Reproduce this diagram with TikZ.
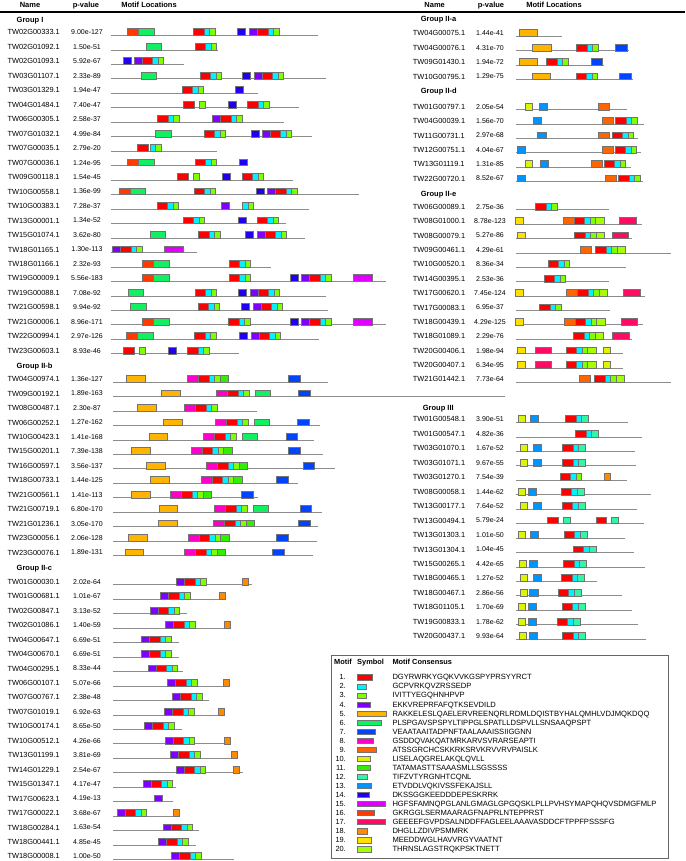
\documentclass[tikz,border=0pt]{standalone}
\usepackage{fontspec}
\setmainfont{Liberation Sans}
\definecolor{m1}{HTML}{FF0000}
\definecolor{m2}{HTML}{00F2FF}
\definecolor{m3}{HTML}{80FF00}
\definecolor{m4}{HTML}{8000FF}
\definecolor{m5}{HTML}{FFB400}
\definecolor{m6}{HTML}{10F060}
\definecolor{m7}{HTML}{0044FF}
\definecolor{m8}{HTML}{FF00C8}
\definecolor{m9}{HTML}{FF6400}
\definecolor{m10}{HTML}{DDF500}
\definecolor{m11}{HTML}{33EE00}
\definecolor{m12}{HTML}{33F5A8}
\definecolor{m13}{HTML}{0094FF}
\definecolor{m14}{HTML}{2000F0}
\definecolor{m15}{HTML}{E000FF}
\definecolor{m16}{HTML}{FF3A00}
\definecolor{m17}{HTML}{FF0A64}
\definecolor{m18}{HTML}{FF8A00}
\definecolor{m19}{HTML}{FFE100}
\definecolor{m20}{HTML}{A5FF00}
\newcommand\defw[2]{\expandafter\def\csname mw#1\endcsname{#2}}
\defw{1}{10.5}\defw{2}{5.5}\defw{3}{5.5}\defw{4}{8}\defw{5}{18.7}
\defw{6}{15.3}\defw{7}{11.5}\defw{8}{11}\defw{9}{10.8}\defw{10}{7}
\defw{11}{8.5}\defw{12}{7}\defw{13}{8.3}\defw{14}{8}\defw{15}{18.7}
\defw{16}{11}\defw{17}{16.5}\defw{18}{6}\defw{19}{7.7}\defw{20}{8.5}
\newcounter{nid}
\newcommand\startgroup[2]{\xdef\cury{#1}\xdef\rstp{#2}}
\newcommand\ch[2]{%
  \xdef\cx{#1}%
  \foreach \m in {#2}{%
    \pgfmathsetmacro\nx{\cx+\csname mw\m\endcsname}%
    \draw[mbox,fill=m\m] (\cx,\cury-3.6) rectangle (\nx,\cury+3.2);
    \xdef\cx{\nx}%
  }%
}
\newcommand\rowL[5]{%
  \stepcounter{nid}%
  \node[gname] (n\thenid) at (33.7,\cury) {#1};
  \node[gpval] (p\thenid) at (87,\cury) {#2};
  \draw[gline] (#3,\cury+3.2) -- (#4,\cury+3.2);
  #5%
  \pgfmathsetmacro\tmpy{\cury+\rstp}\xdef\cury{\tmpy}%
}
\newcommand\rowR[5]{%
  \stepcounter{nid}%
  \node[gname] (n\thenid) at (439,\cury) {#1};
  \node[gpval] (p\thenid) at (490,\cury) {#2};
  \draw[gline] (#3,\cury+3.2) -- (#4,\cury+3.2);
  #5%
  \pgfmathsetmacro\tmpy{\cury+\rstp}\xdef\cury{\tmpy}%
}
\tikzset{
  gname/.style={font=\fontsize{7.4}{8}\selectfont, inner sep=0pt, text height=5.3pt, text depth=0pt},
  gpval/.style={font=\fontsize{7}{8}\selectfont, inner sep=0pt, text height=5pt, text depth=0pt},
  ghead/.style={font=\bfseries\fontsize{7.5}{8}\selectfont, inner sep=0pt, text height=5.4pt, text depth=0pt},
  glabel/.style={ghead, anchor=west},
  gline/.style={draw={rgb,255:red,140;green,140;blue,140}, line width=0.9pt},
  mbox/.style={draw=black!55, line width=0.5pt},
  lhead/.style={font=\bfseries\fontsize{7.4}{8}\selectfont, inner sep=0pt, text height=5.2pt, text depth=0pt, anchor=west},
  lnum/.style={font=\fontsize{7.4}{8}\selectfont, inner sep=0pt, text height=5.1pt, text depth=0pt, anchor=east},
  lseq/.style={font=\fontsize{7.6}{8}\selectfont, inner sep=0pt, text height=5.1pt, text depth=0pt, anchor=west},
}
\begin{document}
\begin{tikzpicture}[x=1pt,y=-1pt]
\useasboundingbox (0,0) rectangle (685,861);
\fill[white] (0,0) rectangle (685,861);
% headers
\node[ghead] (h1) at (30,5) {Name};
\node[ghead] (h2) at (86,5) {p-value};
\node[ghead] (h3) at (149,5) {Motif Locations};
\node[ghead] (h4) at (434.7,5) {Name};
\node[ghead] (h5) at (491,5) {p-value};
\node[ghead] (h6) at (554,5) {Motif Locations};
\draw[line width=1.6pt] (0,11.8) -- (685,11.8);
% group labels
\node[glabel] (gI) at (16.5,20) {Group I};
\node[glabel] (gIIb) at (16.5,365.5) {Group II-b};
\node[glabel] (gIIc) at (16.5,567.5) {Group II-c};
\node[glabel] (gIIa) at (420.7,19) {Group II-a};
\node[glabel] (gIId) at (420.7,90.7) {Group II-d};
\node[glabel] (gIIe) at (420.7,193.3) {Group II-e};
\node[glabel] (gIII) at (422.7,407.3) {Group III};
% Group I
\startgroup{32.3}{14.47}
\rowL{TW02G00333.1}{9.00e-127}{111}{318.3}{\ch{127.7}{16,6}\ch{193.3}{1,2,3}\ch{237.7}{14}\ch{249.7}{4,1,2,3}}
\rowL{TW02G01092.1}{1.50e-51}{111}{218.3}{\ch{146.3}{6}\ch{195}{1,2,3}}
\rowL{TW02G01093.1}{5.92e-67}{111}{184.3}{\ch{123.3}{14}\ch{134}{4,1,2,3}}
\rowL{TW03G01107.1}{2.33e-89}{111}{326}{\ch{141.3}{6}\ch{200}{1,2,3}\ch{242.3}{14}\ch{254}{4,1,2,3}}
\rowL{TW03G01329.1}{1.94e-47}{111}{258.3}{\ch{182}{1,2,3}\ch{235.7}{14}}
\rowL{TW04G01484.1}{7.40e-47}{111}{299.3}{\ch{183.7}{1}\ch{199.3}{3}\ch{228.7}{14}\ch{247.7}{1,2,3}}
\rowL{TW06G00305.1}{2.58e-37}{111}{283.7}{\ch{157.7}{1,2,3}\ch{212.3}{4,1,2,3}}
\rowL{TW07G01032.1}{4.99e-84}{111}{311.7}{\ch{155.7}{6}\ch{204}{1,2,3}\ch{251.3}{14}\ch{262}{4,1,2,3}}
\rowL{TW07G00035.1}{2.79e-20}{111}{217.3}{\ch{137.3}{1}\ch{150}{2,3}}
\rowL{TW07G00036.1}{1.24e-95}{111}{245}{\ch{127.7}{16,6}\ch{195}{1,2,3}\ch{239.3}{14}}
\rowL{TW09G00118.1}{1.54e-45}{111}{293.3}{\ch{177.7}{1}\ch{193.3}{3}\ch{222.7}{14}\ch{242}{1,2,3}}
\rowL{TW10G00558.1}{1.36e-99}{111}{359.3}{\ch{119}{16,6}\ch{194}{1,2,3}\ch{256}{14}\ch{267.7}{4,1,2,3}}
\rowL{TW10G00383.1}{7.28e-37}{111}{309.3}{\ch{157}{1,2,3}\ch{221.3}{4}\ch{242.7}{2,3}}
\rowL{TW13G00001.1}{1.34e-52}{111}{285.7}{\ch{183}{1,2,3}\ch{238}{14}\ch{257}{1,2,3}}
\rowL{TW15G01074.1}{3.62e-80}{111}{304.7}{\ch{150.3}{6}\ch{198.3}{1,2,3}\ch{245.7}{14}\ch{257}{4,1,2,3}}
\rowL{TW18G01165.1}{1.30e-113}{111}{196.7}{\ch{112.3}{4,1,2,3}\ch{164.3}{15}}
\rowL{TW18G01166.1}{2.32e-93}{111}{270.7}{\ch{142.7}{16,6}\ch{229}{1,2,3}}
\rowL{TW19G00009.1}{5.56e-183}{111}{386}{\ch{142.7}{16,6}\ch{229}{1,2,3}\ch{290}{14}\ch{301.3}{4,1,2,3}\ch{353.3}{15}}
\rowL{TW19G00088.1}{7.08e-92}{111}{325.7}{\ch{128.3}{6}\ch{195}{1,2,3}\ch{238.7}{14}\ch{250}{4,1,2,3}}
\rowL{TW21G00598.1}{9.94e-92}{111}{328.3}{\ch{130.7}{6}\ch{198}{1,2,3}\ch{241.7}{14}\ch{253}{4,1,2,3}}
\rowL{TW21G00006.1}{8.96e-171}{111}{385.7}{\ch{142.7}{16,6}\ch{228.7}{1,2,3}\ch{290}{14}\ch{301.3}{4,1,2,3}\ch{353.3}{15}}
\rowL{TW22G00994.1}{2.97e-126}{111}{319}{\ch{126.7}{16,6}\ch{194.7}{1,2,3}\ch{239}{14}\ch{251}{4,1,2,3}}
\rowL{TW23G00603.1}{8.93e-46}{111}{239}{\ch{123.3}{1}\ch{139.3}{3}\ch{168.3}{14}\ch{187.7}{1,2,3}}
% Group II-b
\startgroup{379}{14.45}
\rowL{TW04G00974.1}{1.36e-127}{113}{328.3}{\ch{126.7}{5}\ch{187.3}{8,1,2,3,11}\ch{288.7}{7}}
\rowL{TW09G00192.1}{1.89e-163}{113}{505}{\ch{161.3}{5}\ch{216.3}{8,1,2,3}\ch{255}{6}\ch{298.3}{7}}
\rowL{TW08G00487.1}{2.30e-87}{113}{256.7}{\ch{137.7}{5}\ch{184.3}{8,1,2,3}}
\rowL{TW06G00252.1}{1.27e-162}{113}{320}{\ch{163.3}{5}\ch{215.3}{8,1,2,3}\ch{254}{6}\ch{297.3}{7}}
\rowL{TW10G00423.1}{1.41e-168}{113}{314.3}{\ch{149}{5}\ch{203.7}{8,1,2,3}\ch{242.3}{6}\ch{286}{7}}
\rowL{TW15G00201.1}{7.39e-138}{113}{322.7}{\ch{131.3}{5}\ch{191}{8,1,2,3,11}\ch{288.7}{7}}
\rowL{TW16G00597.1}{3.56e-137}{113}{335}{\ch{146.7}{5}\ch{206.3}{8,1,2,3,11}\ch{303}{7}}
\rowL{TW18G00733.1}{1.44e-125}{113}{297.7}{\ch{150.3}{5}\ch{201}{8,1,2,3,11}\ch{276.3}{7}}
\rowL{TW21G00561.1}{1.41e-113}{113}{257.7}{\ch{131.3}{5}\ch{170.7}{8,1,2,3,11}\ch{241.3}{7}}
\rowL{TW21G00719.1}{6.80e-170}{113}{321.7}{\ch{159}{5}\ch{214.3}{8,1,2,3}\ch{253.3}{6}\ch{300}{7}}
\rowL{TW21G01236.1}{3.05e-170}{113}{318.3}{\ch{158.3}{5}\ch{213.3}{8,1,2,3,11}\ch{298.7}{7}}
\rowL{TW23G00056.1}{2.06e-128}{113}{316.7}{\ch{128.7}{5}\ch{188}{8,1,2,3,11}\ch{276.3}{7}}
\rowL{TW23G00076.1}{1.89e-131}{113}{313.3}{\ch{125}{5}\ch{184.3}{8,1,2,3,11}\ch{272.7}{7}}
% Group II-c
\startgroup{581.7}{14.45}
\rowL{TW01G00030.1}{2.02e-64}{113}{251.7}{\ch{176.7}{4,1,2,3}\ch{242.7}{18}}
\rowL{TW01G00681.1}{1.01e-67}{113}{226}{\ch{160.3}{4,1,2,3}\ch{219.3}{18}}
\rowL{TW02G00847.1}{3.13e-52}{113}{186.7}{\ch{150}{4,1,2,3}}
\rowL{TW02G01086.1}{1.40e-59}{113}{230}{\ch{165.7}{4,1,2,3}\ch{224.3}{18}}
\rowL{TW04G00647.1}{6.69e-51}{113}{179}{\ch{141.7}{4,1,2,3}}
\rowL{TW04G00670.1}{6.69e-51}{113}{179}{\ch{141.7}{4,1,2,3}}
\rowL{TW04G00295.1}{8.33e-44}{113}{183}{\ch{148}{4,1,2,3}}
\rowL{TW06G00107.1}{5.07e-66}{113}{228.3}{\ch{167.3}{4,1,2,3}\ch{223.3}{18}}
\rowL{TW07G00767.1}{2.38e-48}{113}{209}{\ch{172.3}{4,1,2,3}}
\rowL{TW07G01019.1}{6.92e-63}{113}{221}{\ch{164.7}{4,1,2,3}\ch{218.3}{18}}
\rowL{TW10G00174.1}{8.65e-50}{113}{182}{\ch{144.3}{4,1,2,3}}
\rowL{TW10G00512.1}{4.26e-66}{113}{230}{\ch{165}{4,1,2,3}\ch{224.7}{18}}
\rowL{TW13G01199.1}{3.81e-69}{113}{237.3}{\ch{170.7}{4,1,2,3}\ch{231.3}{18}}
\rowL{TW14G01229.1}{2.54e-67}{113}{242.7}{\ch{176}{4,1,2,3}\ch{233.3}{18}}
\rowL{TW15G01347.1}{4.17e-47}{113}{176}{\ch{143}{4,1,2,3}}
\rowL{TW17G00623.1}{4.19e-13}{113}{172.7}{\ch{154.7}{4}}
\rowL{TW17G00022.1}{3.68e-67}{113}{179}{\ch{117}{4,1,2,3}\ch{173.3}{18}}
\rowL{TW18G00284.1}{1.63e-54}{113}{198.7}{\ch{163}{4,1,2,3}}
\rowL{TW18G00441.1}{4.85e-45}{113}{195.7}{\ch{158.7}{4,1,2,3}}
\rowL{TW18G00008.1}{1.00e-50}{113}{234.3}{\ch{171.3}{4,1,2,3}}
% Group II-a
\startgroup{33.3}{14.4}
\rowR{TW04G00075.1}{1.44e-41}{515.7}{561.7}{\ch{519}{5}}
\rowR{TW04G00076.1}{4.31e-70}{515.7}{629.3}{\ch{532.3}{5}\ch{576.3}{1,2,3}\ch{615.7}{7}}
\rowR{TW09G01430.1}{1.94e-72}{515.7}{604.3}{\ch{519}{5}\ch{546.3}{1,2,3}\ch{591}{7}}
\rowR{TW10G00795.1}{1.29e-75}{515.7}{632.7}{\ch{532}{5}\ch{576}{1,2,3}\ch{619.3}{7}}
% Group II-d
\startgroup{106.7}{14.35}
\rowR{TW01G00797.1}{2.05e-54}{515.7}{626.7}{\ch{525.7}{10}\ch{539.3}{13}\ch{598.7}{9}}
\rowR{TW04G00039.1}{1.56e-70}{515.7}{644}{\ch{533.3}{13}\ch{602.3}{9}\ch{615.3}{1,2,3}}
\rowR{TW11G00731.1}{2.97e-68}{515.7}{637.7}{\ch{537.7}{13}\ch{598.7}{9}\ch{612}{1,2,3}}
\rowR{TW12G00751.1}{4.04e-67}{515.7}{640.7}{\ch{517}{13}\ch{602.3}{9}\ch{615}{1,2,3}}
\rowR{TW13G01119.1}{1.31e-85}{515.7}{631}{\ch{525}{10}\ch{540}{13}\ch{591}{9}\ch{604}{1,2,3}}
\rowR{TW22G00720.1}{8.52e-67}{515.7}{643.3}{\ch{517}{13}\ch{605.3}{9}\ch{618.3}{1,2,3}}
% Group II-e
\startgroup{206.7}{14.38}
\rowR{TW06G00089.1}{2.75e-36}{515.7}{608.7}{\ch{535.3}{1,2,3}}
\rowR{TW08G01000.1}{8.78e-123}{515.7}{641.7}{\ch{515.7}{19}\ch{563.3}{9,1,2,3,20}\ch{619.3}{17}}
\rowR{TW08G00079.1}{5.27e-86}{515.7}{631.7}{\ch{517.3}{19}\ch{574.3}{1,2,3,20}\ch{612}{17}}
\rowR{TW09G00461.1}{4.29e-61}{515.7}{671}{\ch{580.3}{9}\ch{595.7}{1,2,3,20}}
\rowR{TW10G00520.1}{8.36e-34}{515.7}{626}{\ch{548}{1,2,3}}
\rowR{TW14G00395.1}{2.53e-36}{515.7}{609.3}{\ch{544}{1,2,3}}
\rowR{TW17G00620.1}{7.45e-124}{515.7}{645}{\ch{515.7}{19}\ch{566.7}{9,1,2,3,20}\ch{623.3}{17}}
\rowR{TW17G00083.1}{6.95e-37}{515.7}{610}{\ch{539.3}{1,2,3}}
\rowR{TW18G00439.1}{4.29e-125}{515.7}{642.7}{\ch{515.7}{19}\ch{564}{9,1,2,3,20}\ch{621}{17}}
\rowR{TW18G01089.1}{2.29e-76}{515.7}{631.7}{\ch{573.7}{1,2,3,20}\ch{612.7}{17}}
\rowR{TW20G00406.1}{1.98e-94}{515.7}{622.7}{\ch{517.3}{19}\ch{535}{17}\ch{566}{1,2,3,20}\ch{603.3}{10}}
\rowR{TW20G00407.1}{6.34e-95}{515.7}{622.7}{\ch{517.3}{19}\ch{535}{17}\ch{566}{1,2,3,20}\ch{603.3}{10}}
\rowR{TW21G01442.1}{7.73e-64}{515.7}{670.7}{\ch{579.3}{9}\ch{594.3}{1,2,3,20}}
% Group III
\startgroup{419.3}{14.45}
\rowR{TW01G00548.1}{3.90e-51}{515.7}{628.3}{\ch{518.3}{10}\ch{530}{13}\ch{565.3}{1,2,12}}
\rowR{TW01G00547.1}{4.82e-36}{515.7}{641.7}{\ch{575.3}{1,2,12}}
\rowR{TW03G01070.1}{1.67e-52}{515.7}{635}{\ch{520.3}{10}\ch{533}{13}\ch{562.7}{1,2,12}}
\rowR{TW03G01071.1}{9.67e-55}{515.7}{636}{\ch{520.3}{10}\ch{533}{13}\ch{562.7}{1,2,12}}
\rowR{TW03G01270.1}{7.54e-39}{515.7}{626.7}{\ch{560}{1,2,3}\ch{604}{18}}
\rowR{TW08G00058.1}{1.44e-62}{515.7}{651}{\ch{518.3}{10}\ch{528}{13}\ch{561}{1,2,12}}
\rowR{TW13G00177.1}{7.64e-52}{515.7}{636.7}{\ch{520.3}{10}\ch{533}{13}\ch{562}{1,2,12}}
\rowR{TW13G00494.1}{5.79e-24}{515.7}{644}{\ch{547.7}{1}\ch{563.3}{12}\ch{596}{1}\ch{611.7}{12}}
\rowR{TW13G01303.1}{1.01e-50}{515.7}{625}{\ch{518.3}{10}\ch{530}{13}\ch{564}{1,2,12}}
\rowR{TW13G01304.1}{1.04e-45}{515.7}{634.3}{\ch{573}{1,2,12}}
\rowR{TW15G00265.1}{4.42e-65}{515.7}{645}{\ch{519.7}{10}\ch{529}{13}\ch{563.3}{1,2,12}}
\rowR{TW18G00465.1}{1.27e-52}{515.7}{597}{\ch{520.3}{10}\ch{533}{13}\ch{561.3}{1,2,12}}
\rowR{TW18G00467.1}{2.86e-56}{515.7}{622}{\ch{520.3}{10}\ch{529.7}{13}\ch{558}{1,2,12}}
\rowR{TW18G01105.1}{1.70e-69}{515.7}{631.7}{\ch{518.3}{10}\ch{528}{13}\ch{562}{1,2,12}}
\rowR{TW19G00833.1}{1.78e-62}{515.7}{638}{\ch{518.3}{10}\ch{528}{13}\ch{557}{1,2,12}}
\rowR{TW20G00437.1}{9.93e-64}{515.7}{645.7}{\ch{519.7}{10}\ch{529}{13}\ch{562.7}{1,2,12}}
% Legend
\draw[draw=black!60, line width=0.7pt] (331,655) rectangle (668,858);
\node[lhead] (lhA) at (334,662) {Motif};
\node[lhead] (lhB) at (357,662) {Symbol};
\node[lhead] (lhC) at (392.3,662) {Motif Consensus};
\foreach \i/\lw/\s in {
 1/15/DGYRWRKYGQKVVKGSPYPRSYYRCT,
 2/9/GCPVRKQVZRSSEDP,
 3/9/IVITTYEGQHNHPVP,
 4/13/EKKVREPRFAFQTKSEVDILD,
 5/28.5/RAKKELESLQAELERVREENQRLRDMLDQISTBYHALQMHLVDJMQKDQQ,
 6/23.5/PLSPGAVSPSPYLTIPPGLSPATLLDSPVLLSNSAAQPSPT,
 7/17.7/VEAATAAITADPNFTAALAAAISSIIGGNN,
 8/16/GSDDQVAKQATMRKARVSVRARSEAPTI,
 9/18.7/ATSSGRCHCSKKRKSRVKRVVRVPAISLK,
 10/12.7/LISELAQGRELAKQLQVLL,
 11/13.3/TATAMASTTSAAASMLLSGSSSS,
 12/10/TIFZVTYRGNHTCQNL,
 13/14.3/ETVDDLVQKIVSSFEKAJSLL,
 14/12/DKSSGGKEEDDDEPESKRRK,
 15/28.3/HGFSFAMNQPGLANLGMAGLGPGQSKLPLLPVHSYMAPQHQVSDMGFMLP,
 16/16.7/GKRGGLSERMAARAGFNAPRLNTEPPRST,
 17/28.3/GEEEEFGVPDSALNDDFFAGLEELAAAVASDDCFTPPFPSSSFG,
 18/10/DHGLLZDIVPSMMRK,
 19/14.3/MEEDDWGLHAVVRGYVAATNT,
 20/14.3/THRNSLAGSTRQKPSKTNETT}{
  \pgfmathsetmacro\ly{677.3+9.05*(\i-1)}
  \node[lnum] (ln\i) at (346,\ly) {\i.};
  \draw[mbox,fill=m\i] (357.3,\ly-2.6) rectangle (357.3+\lw,\ly+2.6);
  \node[lseq] (ls\i) at (392.3,\ly) {\s};
}
\end{tikzpicture}
\end{document}
